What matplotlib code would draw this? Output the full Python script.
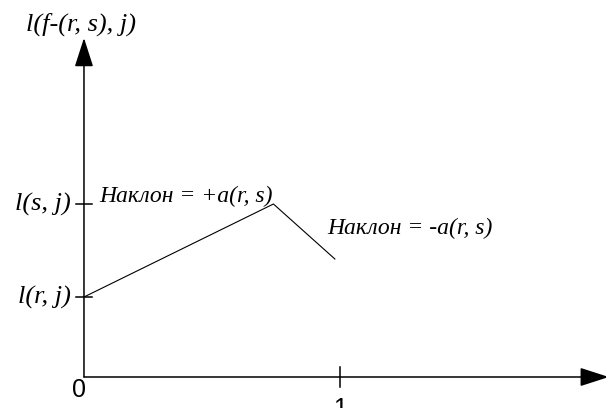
import matplotlib.pyplot as plt

# piecewise-linear cost curve
xs = [0.0, 0.74, 0.98]
ys = [0.80, 1.73, 1.18]

l_r = 0.80
l_s = 1.73
x_ticks = [0, 1]
x_tick_labels = ['0', '1']

fig = plt.figure(figsize=(6.06, 4.08), dpi=100)
ax = fig.add_axes([0, 0, 1, 1])
ax.set_xlim(-0.328, 2.039)
ax.set_ylim(-0.31, 3.77)
ax.axis('off')

serif = dict(family='Liberation Serif', style='italic')
head = dict(arrowstyle='-|>,head_length=1.8,head_width=0.58',
            lw=1.1, color='black', shrinkA=0, shrinkB=0)

# axes with arrows
ax.annotate('', xy=(2.05, 0), xytext=(0, 0), arrowprops=head,
            annotation_clip=False)
ax.annotate('', xy=(0, 3.39), xytext=(0, 0), arrowprops=head,
            annotation_clip=False)

# y ticks
for yv, lab in [(l_r, 'l(r, j)'), (l_s, 'l(s, j)')]:
    ax.plot([-0.03, 0.03], [yv, yv], color='black', lw=1.1)
    ax.text(-0.05, yv, lab, ha='right', va='center', fontsize=19, **serif)

# x ticks
ax.plot([x_ticks[1]] * 2, [-0.10, 0.10], color='black', lw=1.1)
ax.text(-0.02, -0.13, x_tick_labels[0], ha='center', va='center',
        family='Liberation Sans', fontsize=18)
ax.text(x_ticks[1], -0.32, x_tick_labels[1], ha='center', va='center',
        family='Liberation Sans', fontsize=18)

ax.plot(xs, ys, color='black', lw=0.8)

ax.text(0.06, 1.81, 'Наклон = +a(r, s)', ha='left', va='center',
        fontsize=17, **serif)
ax.text(0.95, 1.49, 'Наклон = -a(r, s)', ha='left', va='center',
        fontsize=17, **serif)
ax.text(-0.225, 3.53, 'l(f-(r, s), j)', ha='left', va='center',
        fontsize=19, **serif)

fig.savefig('out.png', dpi=100)
